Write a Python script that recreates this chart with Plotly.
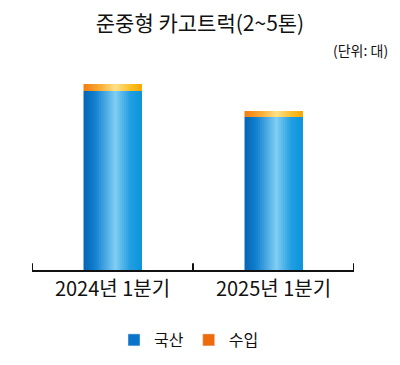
import plotly.graph_objects as go

categories = ["2024년 1분기", "2025년 1분기"]
domestic = [5370, 4590]   # 국산
imported = [210, 180]     # 수입
series_names = ["국산", "수입"]

FONT = "Noto Sans CJK KR"

def lerp(c1, c2, t):
    return tuple(round(a + (b - a) * t) for a, b in zip(c1, c2))

def grad(stops, t):
    for (p0, c0), (p1, c1) in zip(stops, stops[1:]):
        if p0 <= t <= p1:
            return "rgb(%d,%d,%d)" % lerp(c0, c1, (t - p0) / (p1 - p0))
    return "rgb(%d,%d,%d)" % stops[-1][1]

blue_stops = [(0.0, (6, 100, 180)), (0.2, (18, 128, 208)), (0.55, (128, 206, 243)),
              (0.8, (36, 158, 225)), (1.0, (12, 148, 220))]
orange_stops = [(0.0, (240, 125, 15)), (0.3, (250, 175, 55)), (0.55, (255, 226, 135)),
                (0.8, (250, 192, 45)), (1.0, (246, 168, 0))]

W = 0.36
N = 30
fig = go.Figure()
for i in range(N):
    t = (i + 0.5) / N
    off = -W / 2 + i * W / N
    wid = W / 2 - off
    fig.add_trace(go.Bar(x=categories, y=domestic, offset=off, width=wid,
                         marker=dict(color=grad(blue_stops, t), line=dict(width=0)),
                         showlegend=False, hoverinfo="skip"))
    fig.add_trace(go.Bar(x=categories, y=imported, base=domestic, offset=off, width=wid,
                         marker=dict(color=grad(orange_stops, t), line=dict(width=0)),
                         showlegend=False, hoverinfo="skip"))

# legend entries
fig.add_trace(go.Bar(x=[None], y=[None], name=series_names[0], marker_color="#0a74c8"))
fig.add_trace(go.Bar(x=[None], y=[None], name=series_names[1], marker_color="#ee6a0a"))

# category boundary ticks (pointing up from the axis line)
for k in range(len(categories) + 1):
    fig.add_shape(type="line", xref="x", yref="paper", x0=k - 0.5, x1=k - 0.5,
                  y0=0, y1=0.032, line=dict(color="#111", width=2))

fig.update_layout(
    width=392, height=357,
    margin=dict(l=24, r=46, t=52, b=95, autoexpand=False),
    barmode="overlay",
    plot_bgcolor="white", paper_bgcolor="white",
    font=dict(family=FONT, color="#111"),
    title=dict(text="준중형 카고트럭(2~5톤)", x=0.4898, xref="container", xanchor="center",
               y=0.955, yref="container", yanchor="middle",
               font=dict(size=21, family=FONT, color="#111")),
    showlegend=True,
    legend=dict(orientation="h", xref="container", x=0.4617, xanchor="center",
                yref="container", y=0.07, yanchor="middle",
                font=dict(size=16, family=FONT, color="#111"), itemwidth=30, traceorder="normal"),
    xaxis=dict(type="category", range=[-0.5, 1.5], showline=True, linecolor="#111", linewidth=2,
               ticks="", tickfont=dict(size=20, family=FONT, color="#111"), showgrid=False,
               automargin=False),
    yaxis=dict(range=[0, 6300], visible=False, showgrid=False),
    annotations=[dict(text="(단위: 대)", x=1.112, y=1.048, xref="paper", yref="paper",
                      xanchor="right", yanchor="middle", showarrow=False,
                      font=dict(size=14, family=FONT, color="#111"))],
)
fig.write_html("out.html")
